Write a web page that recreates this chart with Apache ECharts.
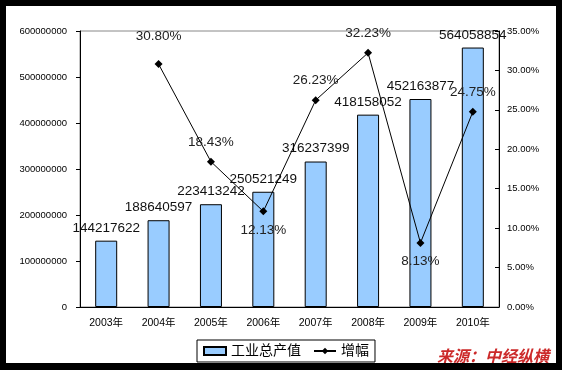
<!DOCTYPE html>
<html><head><meta charset="utf-8">
<script src="https://cdn.jsdelivr.net/npm/echarts@6/dist/echarts.min.js"></script>
<style>
html,body{margin:0;padding:0;background:#000;width:562px;height:370px;overflow:hidden}
#c{position:absolute;left:6px;top:6px;width:550px;height:357px;background:#fff}
</style></head>
<body><div id="c"></div>
<script>
var categories = ['2003年','2004年','2005年','2006年','2007年','2008年','2009年','2010年'];
var outputValues = [144217622,188640597,223413242,250521249,316237399,418158052,452163877,564058854];
var growthRates = [null,0.3080,0.1843,0.1213,0.2623,0.3223,0.0813,0.2475];
var seriesNames = ['工业总产值','增幅'];
var sourceText = '来源：中经纵横';

var FF = '"Liberation Sans", Arial, "Noto Sans CJK SC", sans-serif';
var belowIdx = {3: true, 6: true};
var lineData = growthRates.map(function (v, i) {
  if (v === null) return '-';
  var item = {value: v};
  if (belowIdx[i]) item.label = {position: 'bottom', distance: 8};
  if (i === 1) item.label = {position: 'top', distance: 17};
  return item;
});

var chart = echarts.init(document.getElementById('c'), null, {renderer: 'canvas'});
chart.setOption({
  animation: false,
  textStyle: {fontFamily: FF},
  grid: {left: 74, top: 25, width: 419, height: 276, show: true, borderColor: '#888', borderWidth: 1, backgroundColor: 'transparent'},
  xAxis: {
    type: 'category', data: categories, boundaryGap: true,
    axisLine: {lineStyle: {color: '#000', width: 1}},
    axisTick: {inside: true, length: 5, lineStyle: {color: '#000'}},
    axisLabel: {color: '#000', fontSize: 10.5, fontFamily: FF, margin: 11}
  },
  yAxis: [{
    type: 'value', min: 0, max: 600000000, interval: 100000000,
    axisLine: {show: true, lineStyle: {color: '#000'}},
    axisTick: {show: true, length: 4, lineStyle: {color: '#000'}},
    splitLine: {show: false},
    axisLabel: {color: '#000', fontSize: 9.5, fontFamily: FF, margin: 13,
      formatter: function (v) { return String(v); }}
  }, {
    type: 'value', min: 0, max: 0.35, interval: 0.05, position: 'right',
    axisLine: {show: true, lineStyle: {color: '#000'}},
    axisTick: {show: true, inside: true, length: 4, lineStyle: {color: '#000'}},
    splitLine: {show: false},
    axisLabel: {color: '#000', fontSize: 9.5, fontFamily: FF, margin: 8,
      formatter: function (v) { return (v * 100).toFixed(2) + '%'; }}
  }],
  legend: {
    left: 191, top: 334, padding: [4, 6, 4, 6], itemGap: 12,
    borderColor: '#000', borderWidth: 1, backgroundColor: '#fff',
    itemWidth: 22, itemHeight: 8,
    textStyle: {color: '#000', fontSize: 14, fontFamily: FF},
    data: [{name: seriesNames[0], icon: 'rect'}, {name: seriesNames[1]}]
  },
  series: [{
    name: seriesNames[0], type: 'bar', data: outputValues, barWidth: 22,
    itemStyle: {color: '#99CCFF', borderColor: '#000', borderWidth: 1},
    label: {show: true, position: 'top', distance: 6, color: '#111', fontSize: 13.5, fontFamily: FF}
  }, {
    name: seriesNames[1], type: 'line', yAxisIndex: 1, data: lineData,
    symbol: 'diamond', symbolSize: 8, z: 5,
    lineStyle: {color: '#000', width: 1}, itemStyle: {color: '#000'},
    label: {show: true, position: 'top', distance: 9, color: '#222', fontSize: 13.5, fontFamily: FF,
      formatter: function (p) { return (p.value * 100).toFixed(2) + '%'; }}
  }],
  graphic: [{
    type: 'text', left: 431, top: 342, z: 10,
    style: {text: sourceText, fill: '#cc2a2a', font: 'italic bold 16px "Noto Sans CJK SC", sans-serif'}
  }]
});
</script></body></html>
